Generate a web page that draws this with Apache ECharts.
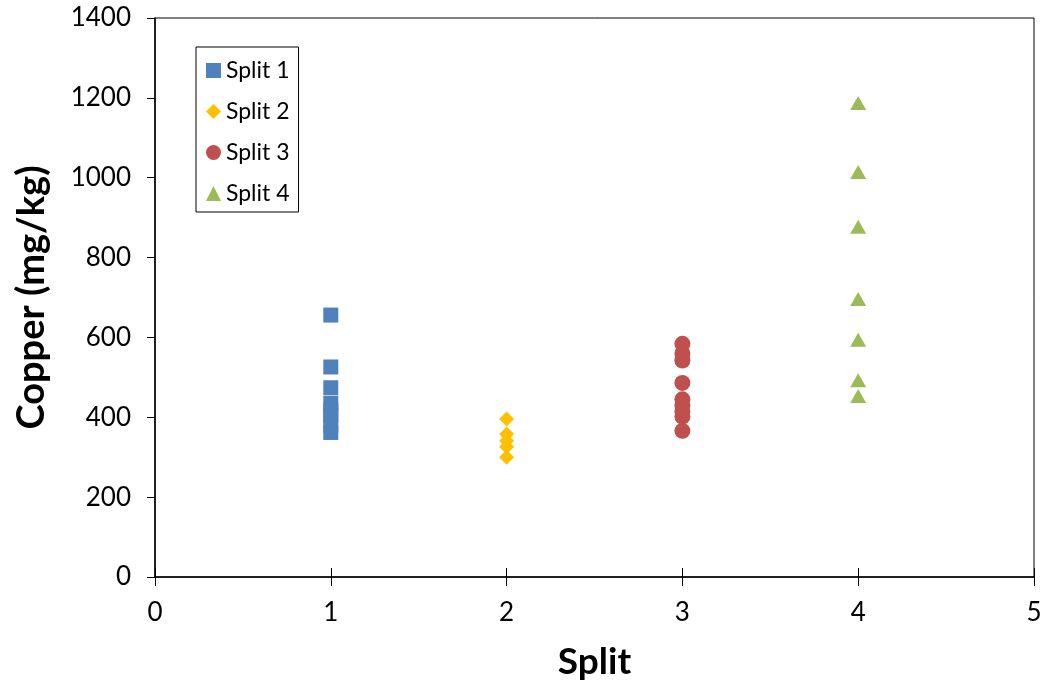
<!DOCTYPE html>
<html>
<head>
<meta charset="utf-8">
<script src="https://cdn.jsdelivr.net/npm/echarts@6/dist/echarts.min.js"></script>
<style>
  html, body { margin: 0; padding: 0; background: #fff; }
  #chart { width: 1044px; height: 685px; }
</style>
</head>
<body>
<div id="chart"></div>
<script>
// Copper concentration (mg/kg) measured in each split
const seriesNames = ['Split 1', 'Split 2', 'Split 3', 'Split 4'];
const splitPositions = [1, 2, 3, 4];
const split1 = [656, 526, 474, 435, 418, 405, 380, 362];
const split2 = [396, 358, 341, 326, 300];
const split3 = [584, 560, 542, 486, 445, 430, 415, 402, 366];
const split4 = [1187, 1014, 877, 696, 594, 493, 453];
const xTicks = [0, 1, 2, 3, 4, 5];
const yTicks = [0, 200, 400, 600, 800, 1000, 1200, 1400];

const seriesValues = [split1, split2, split3, split4];
const colors = ['#4F81BD', '#FFC000', '#C0504D', '#9BBB59'];
const symbols = ['rect', 'diamond', 'circle', 'triangle'];
const symbolSizes = [[15, 15], [15, 15], [16, 16], [16, 14]];
const FONT = 'Lato, "Open Sans", sans-serif';

const chart = echarts.init(document.getElementById('chart'), null, { renderer: 'canvas' });

const series = seriesValues.map((vals, i) => ({
  name: seriesNames[i],
  type: 'scatter',
  xAxisIndex: 0,
  yAxisIndex: 0,
  symbol: symbols[i],
  symbolSize: symbolSizes[i],
  itemStyle: { color: colors[i], opacity: 1 },
  data: vals.map(v => [splitPositions[i], v])
}));

chart.setOption({
  animation: false,
  backgroundColor: '#fff',
  grid: {
    left: 155, right: 10, top: 18, bottom: 108,
    outerBoundsMode: 'none',
    show: true, borderColor: '#000', borderWidth: 1, backgroundColor: 'transparent'
  },
  legend: {
    orient: 'vertical',
    left: 196, top: 47,
    padding: [12, 9, 7, 10],
    itemGap: 18,
    itemWidth: 15, itemHeight: 15,
    borderColor: '#000', borderWidth: 1,
    backgroundColor: '#fff',
    textStyle: { fontFamily: FONT, fontSize: 23, color: '#000', lineHeight: 23 },
    data: seriesNames.map((n, i) => ({ name: n, icon: symbols[i] }))
  },
  xAxis: [{
    type: 'value',
    min: xTicks[0], max: xTicks[xTicks.length - 1], interval: 1,
    name: 'Split', nameLocation: 'middle', nameGap: 67,
    nameTextStyle: { fontFamily: FONT, fontSize: 37, fontWeight: 'bold', color: '#000' },
    axisLine: { show: true, onZero: false, lineStyle: { color: '#000', width: 1.5 } },
    axisTick: { show: true, length: 9, lineStyle: { color: '#000', width: 1 } },
    axisLabel: { fontFamily: FONT, fontSize: 26, color: '#000', margin: 23 },
    splitLine: { show: false }
  }, {
    type: 'value',
    position: 'bottom',
    min: xTicks[0], max: xTicks[xTicks.length - 1], interval: 1,
    axisLine: { show: false },
    axisTick: { show: true, inside: true, length: 9, lineStyle: { color: '#000', width: 1 } },
    axisLabel: { show: false },
    splitLine: { show: false }
  }],
  yAxis: {
    type: 'value',
    min: yTicks[0], max: yTicks[yTicks.length - 1], interval: 200,
    name: 'Copper (mg/kg)', nameLocation: 'middle', nameGap: 104, nameRotate: 90,
    nameTextStyle: { fontFamily: FONT, fontSize: 38, fontWeight: 'bold', color: '#000' },
    axisLine: { show: true, onZero: false, lineStyle: { color: '#000', width: 1.5 } },
    axisTick: { show: true, length: 8, lineStyle: { color: '#000', width: 1 } },
    axisLabel: { fontFamily: FONT, fontSize: 26, color: '#000', margin: 24, formatter: v => String(v) },
    splitLine: { show: false }
  },
  series: series
});
</script>
</body>
</html>
